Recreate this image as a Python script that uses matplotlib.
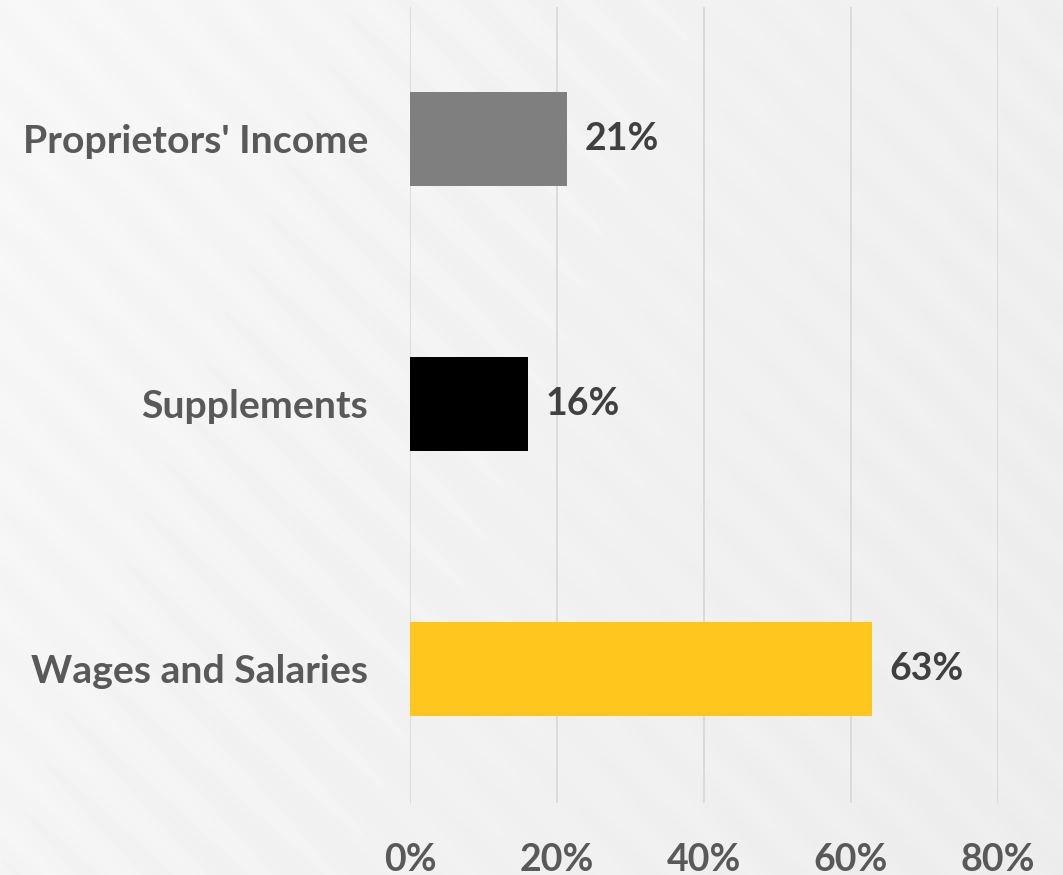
import numpy as np
import matplotlib
matplotlib.use("Agg")
import matplotlib.pyplot as plt

categories = ["Wages and Salaries", "Supplements", "Proprietors' Income"]
values = [0.628, 0.16, 0.214]
bar_colors = ["#FFC61E", "#000000", "#7F7F7F"]
tick_values = [0.0, 0.2, 0.4, 0.6, 0.8]
tick_labels = ["0%", "20%", "40%", "60%", "80%"]

W, H = 1063, 875
fig = plt.figure(figsize=(W / 100, H / 100), dpi=100)

# background with subtle diagonal stripes
bg = fig.add_axes([0, 0, 1, 1], zorder=-10)
yy, xx = np.mgrid[0:H, 0:W]
base = 0.968 - 0.03 * (xx / W) - 0.01 * (yy / H)
stripes = 0.005 * np.sin(2 * np.pi * (xx - yy) / 70.0)
img = np.clip(base + stripes, 0, 1)
bg.imshow(img, cmap="gray", vmin=0, vmax=1, aspect="auto", interpolation="bilinear")
bg.axis("off")

left, right = 410 / W, 998 / W
bottom, top = 1 - 803 / H, 1 - 7 / H
ax = fig.add_axes([left, bottom, right - left, top - bottom])
ax.patch.set_alpha(0)

y = np.arange(len(categories))
ax.barh(y, values, height=0.355, color=bar_colors, zorder=3)
ax.set_xlim(0, 0.8)
ax.set_ylim(-0.506, 2.498)
ax.set_xticks(tick_values)
ax.set_xticklabels(tick_labels)
ax.set_yticks(y)
ax.set_yticklabels(categories)
ax.grid(axis="x", color="#D9D9D9", linewidth=1.3, zorder=0)
ax.set_axisbelow(True)
for s in ax.spines.values():
    s.set_visible(False)
ax.tick_params(axis="both", length=0)
ax.tick_params(axis="x", pad=28.5, labelsize=27, labelcolor="#595959")
ax.tick_params(axis="y", pad=30, labelsize=28.3, labelcolor="#595959")
for lab in ax.get_xticklabels() + ax.get_yticklabels():
    lab.set_fontfamily("Lato")
    lab.set_fontweight("bold")

for yi, v in zip(y, values):
    ax.text(v + 0.024, yi, f"{v:.0%}", va="center", ha="left", fontsize=27,
            fontfamily="Lato", fontweight="bold", color="#404040", clip_on=False)

fig.savefig("out.png", dpi=100)
